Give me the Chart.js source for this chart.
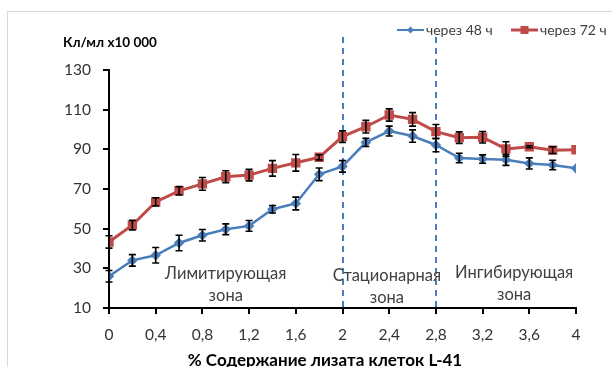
<!DOCTYPE html>
<html>
<head>
<meta charset="utf-8">
<script src="https://cdn.jsdelivr.net/npm/chart.js@4"></script>
<style>
  body { margin: 0; background: #fff; }
  canvas { display: block; }
</style>
</head>
<body>
<canvas id="grafico" width="612" height="367"></canvas>
<script>
// Концентрация лизата, %
const concentraciones = [0, 0.2, 0.4, 0.6, 0.8, 1.0, 1.2, 1.4, 1.6, 1.8, 2.0, 2.2, 2.4, 2.6, 2.8, 3.0, 3.2, 3.4, 3.6, 3.8, 4.0];

// через 48 ч
const serie48 = [26, 34, 36.6, 42.8, 46.7, 49.7, 51.4, 59.8, 62.7, 77.4, 81.4, 93.5, 99.2, 96.7, 92.2, 85.6, 85.1, 84.7, 82.9, 82.1, 80.4];
const error48 = [2.9, 2.9, 3.9, 3.9, 2.9, 2.7, 2.7, 1.9, 3.2, 3.2, 2.9, 2.1, 2.5, 3.1, 3.4, 2.4, 2.1, 2.8, 2.8, 2.4, 0];

// через 72 ч
const serie72 = [43.3, 51.8, 63.5, 69.1, 72.6, 76.2, 77, 80.4, 83.2, 86, 96.4, 101.4, 107.3, 105.1, 98.9, 95.9, 96.1, 90.2, 91.3, 89.6, 89.8];
const error72 = [3.1, 2.4, 2.1, 2.1, 3.2, 3.0, 2.9, 3.9, 4.2, 1.3, 2.9, 3.2, 3.1, 3.4, 3.6, 2.9, 2.9, 3.6, 0.5, 1.7, 0];

const etiquetasSeries = ['через 48 ч', 'через 72 ч'];
const limitesZonas = [2, 2.8];
const textosZonas = [['Лимитирующая', 'зона'], ['Стационарная', 'зона'], ['Ингибирующая', 'зона']];
const tituloY = 'Кл/мл x10 000';
const tituloX = '% Содержание лизата клеток L-41';

const AZUL = '#4a7ebb';
const ROJO = '#be4b48';
const FUENTE = 'Lato, "Open Sans", sans-serif';

function puntos(valores) {
  return concentraciones.map((x, i) => ({ x: x, y: valores[i] }));
}

// barras de error, líneas de zona, leyenda y títulos
const extras = {
  id: 'extras',
  beforeDraw(chart) {
    const ctx = chart.ctx;
    ctx.save();
    ctx.strokeStyle = '#d9d9d9';
    ctx.lineWidth = 1;
    ctx.strokeRect(7.5, 11.5, 800, 500);
    ctx.restore();
  },
  beforeDatasetsDraw(chart) {
    const ctx = chart.ctx;
    const xs = chart.scales.x;
    const area = chart.chartArea;
    ctx.save();
    ctx.strokeStyle = AZUL;
    ctx.lineWidth = 2;
    ctx.setLineDash([6, 5]);
    limitesZonas.forEach(v => {
      const px = Math.round(xs.getPixelForValue(v));
      ctx.beginPath();
      ctx.moveTo(px, area.top - 33);
      ctx.lineTo(px, area.bottom);
      ctx.stroke();
    });
    ctx.setLineDash([]);

    // textos de zonas
    const ys = chart.scales.y;
    const pos = [[1.0, 27.5], [2.38, 26.2], [3.47, 28]];
    ctx.fillStyle = '#404040';
    ctx.font = '16.5px ' + FUENTE;
    ctx.textAlign = 'center';
    ctx.textBaseline = 'middle';
    textosZonas.forEach((lineas, i) => {
      const px = xs.getPixelForValue(pos[i][0]);
      const py = ys.getPixelForValue(pos[i][1]);
      lineas.forEach((t, j) => ctx.fillText(t, px, py + j * 22));
    });
    ctx.restore();
  },
  afterDatasetsDraw(chart) {
    const ctx = chart.ctx;
    const xs = chart.scales.x;
    const ys = chart.scales.y;
    const errores = [error48, error72];
    ctx.save();
    ctx.strokeStyle = '#000';
    ctx.lineWidth = 1.6;
    chart.data.datasets.forEach((ds, d) => {
      ds.data.forEach((p, i) => {
        const e = errores[d][i];
        if (!e) return;
        const px = xs.getPixelForValue(p.x);
        const y1 = ys.getPixelForValue(p.y + e);
        const y2 = ys.getPixelForValue(p.y - e);
        ctx.beginPath();
        ctx.moveTo(px, y1); ctx.lineTo(px, y2);
        ctx.moveTo(px - 3.5, y1); ctx.lineTo(px + 3.5, y1);
        ctx.moveTo(px - 3.5, y2); ctx.lineTo(px + 3.5, y2);
        ctx.stroke();
      });
    });
    ctx.restore();
  },
  afterDraw(chart) {
    const ctx = chart.ctx;
    ctx.save();
    // título eje Y
    ctx.fillStyle = '#000';
    ctx.font = 'bold 13.5px ' + FUENTE;
    ctx.textAlign = 'left';
    ctx.textBaseline = 'middle';
    ctx.fillText(tituloY, 63, 43);
    // título eje X
    ctx.font = 'bold 17px ' + FUENTE;
    ctx.textAlign = 'center';
    ctx.fillText(tituloX, 325, 361);

    // leyenda
    const items = [
      { x: 397, color: AZUL, tipo: 'rombo', texto: etiquetasSeries[0] },
      { x: 511, color: ROJO, tipo: 'cuadro', texto: etiquetasSeries[1] }
    ];
    const ly = 30;
    items.forEach(it => {
      ctx.strokeStyle = it.color;
      ctx.fillStyle = it.color;
      ctx.lineWidth = it.tipo === 'rombo' ? 2 : 3;
      ctx.beginPath();
      ctx.moveTo(it.x, ly); ctx.lineTo(it.x + 27, ly);
      ctx.stroke();
      const cx = it.x + 13.5;
      ctx.beginPath();
      if (it.tipo === 'rombo') {
        ctx.moveTo(cx, ly - 3.5); ctx.lineTo(cx + 3.5, ly); ctx.lineTo(cx, ly + 3.5); ctx.lineTo(cx - 3.5, ly);
      } else {
        ctx.rect(cx - 4, ly - 4, 8, 8);
      }
      ctx.fill();
      ctx.fillStyle = '#404040';
      ctx.font = '14px ' + FUENTE;
      ctx.textAlign = 'left';
      ctx.fillText(it.texto, it.x + 29, ly);
    });
    ctx.restore();
  }
};

const formatoComa = v => String(Math.round(v * 10) / 10).replace('.', ',');

new Chart(document.getElementById('grafico'), {
  type: 'line',
  data: {
    datasets: [
      {
        label: etiquetasSeries[0],
        data: puntos(serie48),
        borderColor: AZUL,
        backgroundColor: AZUL,
        borderWidth: 2.5,
        pointStyle: 'rectRot',
        pointRadius: 3.5,
        tension: 0
      },
      {
        label: etiquetasSeries[1],
        data: puntos(serie72),
        borderColor: ROJO,
        backgroundColor: ROJO,
        borderWidth: 3,
        pointStyle: 'rect',
        pointRadius: 4.5,
        tension: 0
      }
    ]
  },
  options: {
    responsive: false,
    animation: false,
    layout: { padding: { left: 0, top: 70, right: 36, bottom: 0 } },
    plugins: {
      legend: { display: false },
      tooltip: { enabled: false }
    },
    scales: {
      x: {
        type: 'linear',
        min: 0,
        max: 4,
        afterFit(scale) { scale.height = 59; },
        afterBuildTicks(scale) {
          scale.ticks = [];
          for (let i = 0; i <= 10; i++) scale.ticks.push({ value: i * 0.4 });
        },
        ticks: {
          callback: formatoComa,
          color: '#333',
          font: { size: 15.5, family: FUENTE },
          padding: 12,
          maxRotation: 0,
          autoSkip: false
        },
        grid: { drawOnChartArea: false, drawTicks: true, tickLength: 6, color: '#000', lineWidth: 2 },
        border: { display: true, color: '#000', width: 2 }
      },
      y: {
        min: 10,
        max: 130,
        afterFit(scale) { scale.width = 109; },
        ticks: {
          stepSize: 20,
          color: '#333',
          font: { size: 15.5, family: FUENTE },
          padding: 12
        },
        grid: { drawOnChartArea: false, drawTicks: true, tickLength: 6, color: '#000', lineWidth: 2 },
        border: { display: true, color: '#000', width: 2 }
      }
    }
  },
  plugins: [extras]
});
</script>
</body>
</html>
